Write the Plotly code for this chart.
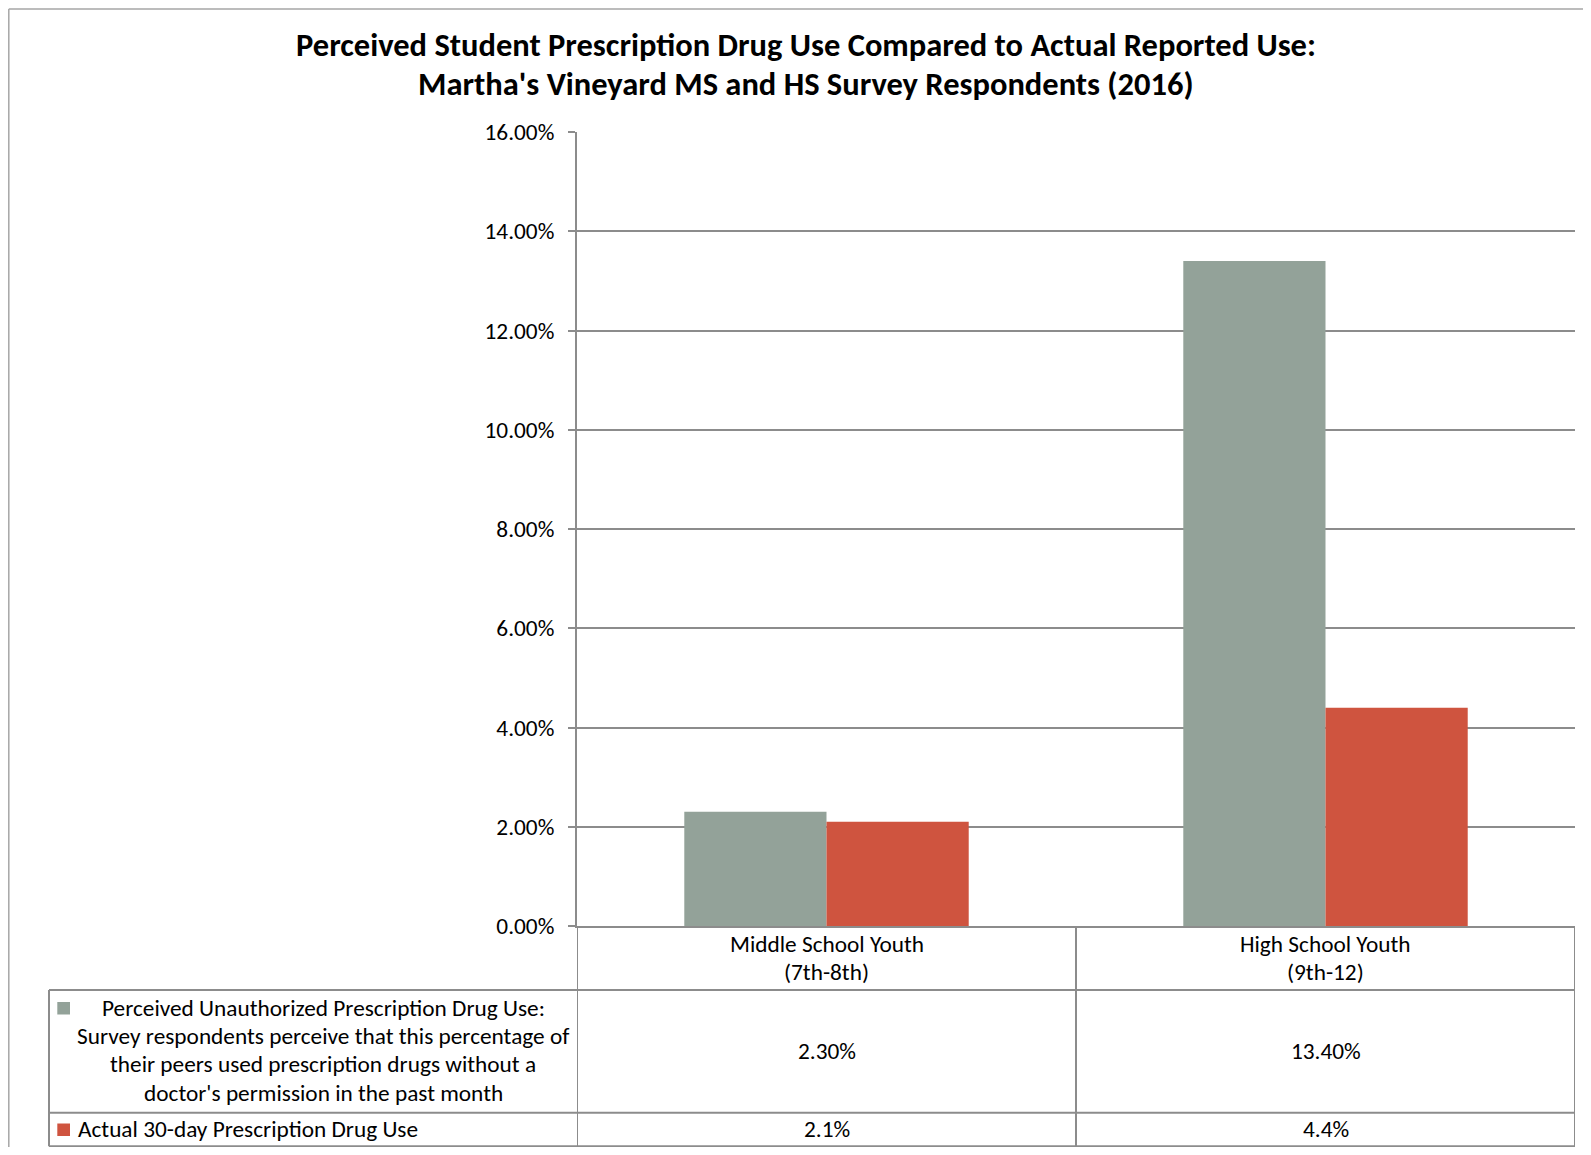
import plotly.graph_objects as go

# ---------------- data ----------------
categories = ["Middle School Youth", "High School Youth"]
category_sub = ["(7th-8th)", "(9th-12)"]
perceived = [0.023, 0.134]
actual = [0.021, 0.044]
series_names = ["Perceived Unauthorized Prescription Drug Use:",
                "Actual 30-day Prescription Drug Use"]
perceived_desc = [
    "Perceived Unauthorized Prescription Drug Use:",
    "Survey respondents perceive that this percentage of",
    "their peers used prescription drugs without a",
    "doctor's permission in the past month",
]
y_ticks = [0, 0.02, 0.04, 0.06, 0.08, 0.10, 0.12, 0.14, 0.16]
title_lines = [
    "Perceived Student Prescription Drug Use Compared to Actual Reported Use:",
    "Martha's Vineyard MS and HS Survey Respondents (2016)",
]

# ---------------- style ----------------
OFF = 8                      # default page body margin
W, H = 1591 - 2 * OFF, 1155 - 2 * OFF
PL, PR, PT, PB = 577, 1575, 132, 926  # plot area in page px
GREY = "#93A299"
RED = "#CF543F"
LINE = "#8C8C8C"
FONT = "Carlito, Calibri, Lato, sans-serif"
TXT = 23.3
TABLE_BOTTOM = 1146.3


def px_x(px):
    return (px - PL) / (PR - PL)


def px_y(py):
    return (PB - py) / (PB - PT)


fig = go.Figure()
fig.add_trace(go.Bar(x=categories, y=perceived, name=series_names[0],
                     marker=dict(color=GREY, line=dict(width=0))))
fig.add_trace(go.Bar(x=categories, y=actual, name=series_names[1],
                     marker=dict(color=RED, line=dict(width=0))))

shapes = []
annotations = []

# outer chart border (left and top only, cropped)
shapes.append(dict(type="line", xref="paper", yref="paper",
                   x0=px_x(8.8), x1=px_x(1600), y0=px_y(9), y1=px_y(9),
                   line=dict(color="#A6A6A6", width=1.5)))
shapes.append(dict(type="line", xref="paper", yref="paper",
                   x0=px_x(8.8), x1=px_x(8.8), y0=px_y(9), y1=px_y(1170),
                   line=dict(color="#A6A6A6", width=1.5)))

# data table lines
row_lines = [990, 1112.7, TABLE_BOTTOM]
for ry in row_lines:
    shapes.append(dict(type="line", xref="paper", yref="paper",
                       x0=px_x(49), x1=px_x(PR), y0=px_y(ry), y1=px_y(ry),
                       line=dict(color=LINE, width=2)))
shapes.append(dict(type="line", xref="paper", yref="paper",
                   x0=px_x(49), x1=px_x(49), y0=px_y(990), y1=px_y(TABLE_BOTTOM),
                   line=dict(color=LINE, width=2)))
for i in range(len(categories) + 1):
    shapes.append(dict(type="line", xref="x", yref="paper",
                       x0=i - 0.5, x1=i - 0.5, y0=0, y1=px_y(TABLE_BOTTOM),
                       line=dict(color=LINE, width=2)))

# legend keys in the table
shapes.append(dict(type="rect", xref="paper", yref="paper",
                   x0=px_x(57.3), x1=px_x(70), y0=px_y(1002), y1=px_y(1014.5),
                   fillcolor=GREY, line=dict(width=0)))
shapes.append(dict(type="rect", xref="paper", yref="paper",
                   x0=px_x(57.3), x1=px_x(70), y0=px_y(1123.5), y1=px_y(1136),
                   fillcolor=RED, line=dict(width=0)))

txtfont = dict(family=FONT, size=TXT, color="#000000")

# header (category) rows
for i, (c, s) in enumerate(zip(categories, category_sub)):
    annotations.append(dict(x=i, y=px_y(943.6), xref="x", yref="paper",
                            text=c, showarrow=False, xanchor="center",
                            yanchor="middle", font=txtfont))
    annotations.append(dict(x=i, y=px_y(972), xref="x", yref="paper",
                            text=s, showarrow=False, xanchor="center",
                            yanchor="middle", font=txtfont))

# row 1 label
for k, line in enumerate(perceived_desc):
    annotations.append(dict(x=px_x(323), y=px_y(1007.5 + k * 28.4),
                            xref="paper", yref="paper", text=line,
                            showarrow=False, xanchor="center",
                            yanchor="middle", font=txtfont))
# row 2 label
annotations.append(dict(x=px_x(76), y=px_y(1129), xref="paper", yref="paper",
                        text=series_names[1], showarrow=False, xanchor="left",
                        yanchor="middle", font=txtfont))

# values
for i, v in enumerate(perceived):
    annotations.append(dict(x=i, y=px_y(1051), xref="x", yref="paper",
                            text=f"{v * 100:.2f}%", showarrow=False,
                            xanchor="center", yanchor="middle", font=txtfont))
for i, v in enumerate(actual):
    annotations.append(dict(x=i, y=px_y(1129), xref="x", yref="paper",
                            text=f"{v * 100:.1f}%", showarrow=False,
                            xanchor="center", yanchor="middle", font=txtfont))

# title
for k, (t, ty) in enumerate(zip(title_lines, [44.6, 84.2])):
    annotations.append(dict(x=px_x(806), y=px_y(ty), xref="paper", yref="paper",
                            text=f"<b>{t}</b>", showarrow=False,
                            xanchor="center", yanchor="middle",
                            font=dict(family=FONT, size=32.5, color="#000000")))

fig.update_layout(
    width=W, height=H, autosize=False,
    margin=dict(l=PL - OFF, r=W - (PR - OFF), t=PT - OFF, b=H - (PB - OFF), pad=0),
    paper_bgcolor="white", plot_bgcolor="white",
    barmode="group", bargap=0.43, bargroupgap=0,
    showlegend=False,
    shapes=shapes, annotations=annotations,
    font=dict(family=FONT, size=TXT, color="#000000"),
    xaxis=dict(type="category", range=[-0.5, len(categories) - 0.5],
               showticklabels=False, ticks="", showgrid=False,
               showline=True, linecolor=LINE, linewidth=2, zeroline=False),
    yaxis=dict(range=[0, 0.16], tickvals=y_ticks, tickformat=".2%",
               showgrid=True, gridcolor=LINE, gridwidth=1.5,
               showline=True, linecolor=LINE, linewidth=2,
               ticks="outside", ticklen=7, tickcolor=LINE, tickwidth=1.5,
               ticklabelstandoff=9, zeroline=False,
               tickfont=dict(family=FONT, size=TXT, color="#000000")),
)

fig.write_html("out.html")
